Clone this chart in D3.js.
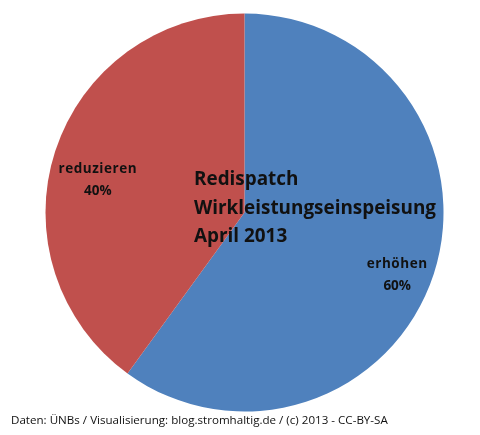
<!DOCTYPE html>
<html><head><meta charset="utf-8"><script src="https://cdn.jsdelivr.net/npm/d3@7"></script>
<style>html,body{margin:0;background:#fff}svg{display:block;filter:blur(.55px)}text{font-family:"Open Sans",sans-serif;fill:#111}</style></head>
<body><svg width="480" height="435"></svg>
<script>
const categories=["erhöhen","reduzieren"];
const values=[60,40];
const colors=["#4f81bd","#c0504d"];
const titleLines=["Redispatch","Wirkleistungseinspeisung","April 2013"];
const credit="Daten: ÜNBs / Visualisierung: blog.stromhaltig.de / (c) 2013 - CC-BY-SA";
const svg=d3.select("svg");
const cx=244.5,cy=212.5,r=199;
const pie=d3.pie().sort(null)(values);
const arc=d3.arc().innerRadius(0).outerRadius(r);
const g=svg.append("g").attr("transform",`translate(${cx},${cy})`);
g.selectAll("path").data(pie).join("path").attr("d",arc).attr("fill",(d,i)=>colors[i]);
const labelArc=d3.arc().innerRadius(r*.775).outerRadius(r*.775);
const lab=g.selectAll("g.l").data(pie).join("g").attr("class","l")
 .attr("transform",(d,i)=>{const[c,s]=labelArc.centroid(d);return `translate(${c+(i===0?6:0)},${s})`});
lab.append("text").attr("text-anchor","middle").attr("font-size",13.5).attr("font-weight",700).attr("letter-spacing",.55).attr("y",8).text((d,i)=>categories[i]);
lab.append("text").attr("text-anchor","middle").attr("font-size",13.5).attr("font-weight",700).attr("y",30).text(d=>d.data+"%");
svg.append("g").selectAll("text").data(titleLines).join("text").attr("x",194).attr("y",(d,i)=>185+i*28.5)
 .attr("font-size",18.9).attr("font-weight",700).text(d=>d);
svg.append("text").attr("x",11).attr("y",424).attr("font-size",11.6).attr("font-weight",500).text(credit);
</script></body></html>
